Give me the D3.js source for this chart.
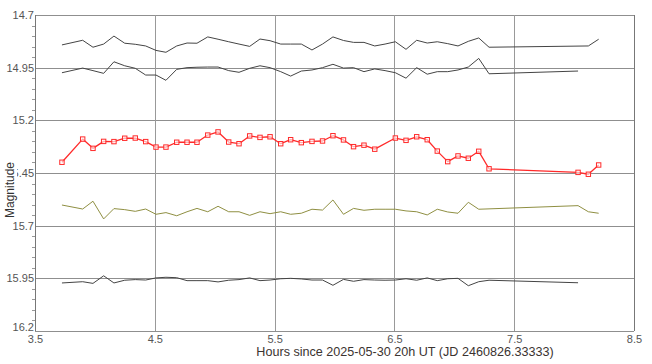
<!DOCTYPE html>
<html><head><meta charset="utf-8">
<script src="https://cdn.jsdelivr.net/npm/d3@7"></script>
<style>body{margin:0;background:#fff}svg{display:block;font-family:"Liberation Sans",Arial,sans-serif}</style>
</head><body><svg id="c" width="652" height="364"></svg>
<script>
const hours = [3.725,3.898,3.984,4.073,4.159,4.249,4.337,4.424,4.510,4.593,4.683,4.769,4.852,4.942,5.028,5.117,5.203,5.292,5.378,5.462,5.551,5.634,5.723,5.812,5.900,5.987,6.075,6.159,6.246,6.336,6.422,6.508,6.597,6.686,6.774,6.858,6.945,7.031,7.117,7.204,7.290,8.033,8.119,8.205];
const targetMag = [15.399,15.289,15.333,15.300,15.301,15.285,15.284,15.301,15.327,15.327,15.304,15.304,15.304,15.270,15.255,15.303,15.311,15.274,15.281,15.278,15.311,15.292,15.306,15.300,15.298,15.273,15.293,15.325,15.318,15.337,null,15.284,15.295,15.278,15.292,15.346,15.396,15.369,15.380,15.347,15.430,15.447,15.456,15.412];
const comp1Mag = [14.842,14.820,14.853,14.838,14.800,14.834,14.839,14.847,14.868,14.877,14.847,14.833,14.834,14.804,14.815,14.827,14.838,14.849,14.814,14.822,14.838,14.838,14.838,14.866,14.838,14.804,14.821,14.830,14.830,14.847,14.838,14.827,14.863,14.820,14.833,14.827,14.836,14.847,14.825,14.809,14.853,null,14.847,14.815];
const comp2Mag = [14.974,14.952,14.964,14.977,14.922,14.941,14.953,14.985,14.985,15.010,14.958,14.950,14.948,14.947,14.947,14.964,14.972,14.953,14.941,14.950,14.969,14.990,14.966,14.961,14.950,14.934,14.952,14.950,14.969,14.956,14.964,14.974,15.000,14.950,14.981,14.969,14.969,14.961,14.947,14.906,14.979,14.966,null,null];
const checkMag = [15.602,15.621,15.584,15.668,15.619,15.624,15.632,15.621,15.646,15.638,15.653,15.634,15.618,15.634,15.608,15.634,15.634,15.651,15.634,15.643,15.634,15.646,15.641,15.622,15.626,15.578,15.646,15.618,15.627,15.622,15.622,15.622,15.630,15.634,15.649,15.622,15.635,15.641,15.589,15.622,null,15.605,15.634,15.641];
const comp3Mag = [15.972,15.966,15.974,15.938,15.972,15.959,15.956,15.958,15.948,15.945,15.947,15.961,15.961,15.961,15.967,15.959,15.956,15.948,15.961,15.958,15.952,15.950,15.953,15.958,15.958,15.983,15.955,15.964,15.956,15.958,15.959,15.958,15.952,15.959,15.948,15.961,15.952,15.950,15.985,15.966,15.959,15.971,null,null];
const xTicks = [3.5,4.5,5.5,6.5,7.5,8.5];
const yTicks = [14.7,14.95,15.2,15.45,15.7,15.95,16.2];
const xTitle = "Hours since 2025-05-30 20h UT (JD 2460826.33333)";
const yTitle = "Magnitude";

const svg = d3.select("#c");
const L=35, R=634, T=15, B=331;
const x = d3.scaleLinear().domain([3.5,8.5]).range([L,R]);
const y = d3.scaleLinear().domain([14.7,16.2]).range([T,B]);

// grid
svg.append("g").selectAll("line").data(yTicks).join("line")
  .attr("x1",L).attr("x2",R).attr("y1",d=>Math.round(y(d))+0.5).attr("y2",d=>Math.round(y(d))+0.5)
  .attr("stroke","#8f8f8f").attr("stroke-width",1);
svg.append("g").selectAll("line").data(xTicks).join("line")
  .attr("y1",T).attr("y2",B).attr("x1",d=>Math.round(x(d))+0.5).attr("x2",d=>Math.round(x(d))+0.5)
  .attr("stroke",(d,i)=> (i===0||i===xTicks.length-1)?"#777":"#999").attr("stroke-width",1);

// minor ticks on y axis
const minor = d3.range(14.75,16.2,0.05).filter(v=>!yTicks.some(t=>Math.abs(t-v)<1e-6));
svg.append("g").selectAll("line").data(minor).join("line")
  .attr("x1",L-3).attr("x2",L).attr("y1",d=>Math.round(y(d))+0.5).attr("y2",d=>Math.round(y(d))+0.5)
  .attr("stroke","#999");

const yAxis = svg.append("g").attr("transform",`translate(${L},0)`)
  .call(d3.axisLeft(y).tickValues(yTicks).tickSize(0).tickPadding(1).tickFormat(d=>String(+d.toFixed(2))));
yAxis.select(".domain").remove();
yAxis.selectAll("text").attr("font-size",11).attr("fill","#555").attr("font-family","Liberation Sans, Arial, sans-serif");
yAxis.selectAll(".tick").filter(d=>d===16.2).select("text").attr("dy","-0.05em");
const xAxis = svg.append("g").attr("transform",`translate(0,${B})`)
  .call(d3.axisBottom(x).tickValues(xTicks).tickSize(0).tickPadding(4).tickFormat(d=>String(d)));
xAxis.select(".domain").remove();
xAxis.selectAll("text").attr("font-size",11).attr("fill","#555").attr("font-family","Liberation Sans, Arial, sans-serif");

// y title with white background
const yt = svg.append("g").attr("transform","translate(10,190) rotate(-90)");
yt.append("rect").attr("x",-28).attr("y",-6).attr("width",56).attr("height",13).attr("fill","#fff");
yt.append("text").attr("text-anchor","middle").attr("dy","0.35em").attr("font-size",12).attr("fill","#333").text(yTitle);

svg.append("text").attr("x",405).attr("y",356).attr("text-anchor","middle").attr("font-size",12.6).attr("fill","#3b3330").text(xTitle);

function pts(arr){ return hours.map((h,i)=>({h,m:arr[i]})).filter(d=>d.m!==null); }
const line = d3.line().x(d=>x(d.h)).y(d=>y(d.m));
const series = [
  {data:comp1Mag,color:"#444",w:1},
  {data:comp2Mag,color:"#444",w:1},
  {data:checkMag,color:"#8f8f42",w:1},
  {data:comp3Mag,color:"#444",w:1},
  {data:targetMag,color:"#ff2a2a",w:1.3}
];
series.forEach(s=>{
  svg.append("path").datum(pts(s.data)).attr("d",line).attr("fill","none")
    .attr("stroke",s.color).attr("stroke-width",s.w).attr("stroke-linejoin","round");
});
svg.append("g").selectAll("rect").data(pts(targetMag)).join("rect")
  .attr("x",d=>x(d.h)-2.2).attr("y",d=>y(d.m)-2.2).attr("width",4.4).attr("height",4.4)
  .attr("fill","#fff").attr("fill-opacity",0.6).attr("stroke","#ff2a2a").attr("stroke-width",1);
</script></body></html>
